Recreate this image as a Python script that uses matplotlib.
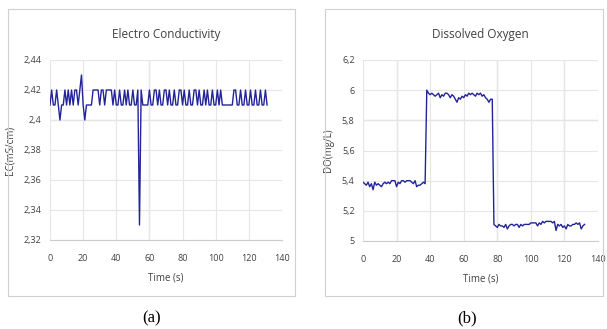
import matplotlib
matplotlib.use('Agg')
import matplotlib.pyplot as plt
from matplotlib.patches import Rectangle
from matplotlib.ticker import FuncFormatter

# Electro Conductivity (mS/cm), one sample per second
ec_vals = [
    2.41, 2.42, 2.41, 2.41, 2.42, 2.41, 2.40, 2.41, 2.41, 2.42,
    2.41, 2.42, 2.41, 2.42, 2.41, 2.42, 2.42, 2.41, 2.42, 2.43,
    2.41, 2.40, 2.41, 2.41, 2.41, 2.41, 2.42, 2.42, 2.42, 2.42,
    2.41, 2.42, 2.42, 2.41, 2.42, 2.42, 2.42, 2.42, 2.41, 2.42,
    2.41, 2.41, 2.42, 2.41, 2.41, 2.42, 2.41, 2.42, 2.41, 2.41,
    2.42, 2.41, 2.41, 2.42, 2.33, 2.42, 2.41, 2.41, 2.41, 2.41,
    2.42, 2.41, 2.41, 2.42, 2.42, 2.41, 2.42, 2.41, 2.41, 2.42,
    2.42, 2.41, 2.42, 2.41, 2.41, 2.42, 2.41, 2.41, 2.42, 2.42,
    2.41, 2.42, 2.41, 2.41, 2.42, 2.41, 2.41, 2.42, 2.42, 2.41,
    2.42, 2.41, 2.41, 2.42, 2.41, 2.42, 2.41, 2.41, 2.42, 2.41,
    2.41, 2.42, 2.41, 2.42, 2.41, 2.41, 2.41, 2.41, 2.41, 2.41,
    2.41, 2.42, 2.42, 2.41, 2.41, 2.42, 2.41, 2.41, 2.42, 2.41,
    2.41, 2.42, 2.41, 2.41, 2.42, 2.41, 2.41, 2.42, 2.41, 2.41,
    2.42, 2.41,
]

# Dissolved Oxygen (mg/L)
do_vals = [
    5.39, 5.38, 5.37, 5.39, 5.36, 5.38, 5.34, 5.39, 5.37, 5.38,
    5.37, 5.36, 5.38, 5.39, 5.38, 5.39, 5.38, 5.40, 5.40, 5.40,
    5.36, 5.39, 5.38, 5.40, 5.40, 5.39, 5.40, 5.40, 5.40, 5.39,
    5.38, 5.40, 5.36, 5.37, 5.37, 5.38, 5.39, 5.38, 6.00, 5.98,
    5.97, 5.98, 5.97, 5.96, 5.97, 5.98, 5.95, 5.97, 5.96, 5.98,
    5.98, 5.97, 5.95, 5.97, 5.96, 5.94, 5.92, 5.95, 5.94, 5.96,
    5.95, 5.97, 5.96, 5.98, 5.97, 5.98, 5.97, 5.96, 5.98, 5.97,
    5.98, 5.96, 5.97, 5.95, 5.94, 5.92, 5.94, 5.94, 5.11, 5.10,
    5.09, 5.11, 5.10, 5.10, 5.09, 5.11, 5.08, 5.10, 5.11, 5.11,
    5.10, 5.11, 5.11, 5.09, 5.11, 5.10, 5.11, 5.11, 5.11, 5.11,
    5.12, 5.12, 5.12, 5.12, 5.10, 5.12, 5.11, 5.13, 5.12, 5.13,
    5.13, 5.13, 5.13, 5.12, 5.13, 5.07, 5.11, 5.10, 5.11, 5.09,
    5.10, 5.08, 5.11, 5.10, 5.10, 5.11, 5.11, 5.12, 5.11, 5.12,
    5.08, 5.10, 5.11,
]

ec_time = list(range(len(ec_vals)))
do_time = list(range(len(do_vals)))

ec_ticks = [2.32, 2.34, 2.36, 2.38, 2.40, 2.42, 2.44]
do_ticks = [5.0, 5.2, 5.4, 5.6, 5.8, 6.0, 6.2]
x_ticks = [0, 20, 40, 60, 80, 100, 120, 140]

LINE = '#23239a'
GRID = '#e6e6e6'
GRID_DARK = '#cdcdcd'
TXT = '#404040'
plt.rcParams['font.family'] = ['Open Sans', 'DejaVu Sans']


def comma(v, _):
    s = f'{v:.2f}'.rstrip('0').rstrip('.')
    return s.replace('.', ',')


def style(ax, title, ylabel, yticks, dark_x, dark_y):
    ax.set_xlim(0, 140)
    ax.set_ylim(yticks[0], yticks[-1])
    ax.set_xticks(x_ticks)
    ax.set_yticks(yticks)
    ax.yaxis.set_major_formatter(FuncFormatter(comma))
    ax.grid(True, color=GRID, linewidth=0.8)
    # a few grid lines look heavier in the original
    for xv in dark_x:
        ax.axvline(xv, color=GRID_DARK, linewidth=0.9, zorder=0.5)
    for yv in dark_y:
        ax.axhline(yv, color=GRID_DARK, linewidth=0.9, zorder=0.5)
    ax.set_axisbelow(True)
    for s in ax.spines.values():
        s.set_visible(False)
    ax.spines['bottom'].set_visible(True)
    ax.spines['bottom'].set_color('#cccccc')
    ax.tick_params(length=0, labelsize=6.5, colors=TXT)
    ax.tick_params(axis='x', pad=10)
    ax.tick_params(axis='y', pad=6)
    ax.set_title(title, fontsize=8.5, color=TXT, pad=16)
    ax.set_xlabel('Time (s)', fontsize=7, color=TXT, labelpad=7)
    ax.set_ylabel(ylabel, fontsize=7, color=TXT, labelpad=6)


fig = plt.figure(figsize=(6.07, 3.29), dpi=100)

# panel frames
fig.patches.append(Rectangle((8 / 607, 1 - 296 / 329), 287 / 607, 287 / 329,
                             transform=fig.transFigure, fill=False,
                             edgecolor='#d0d0d0', linewidth=0.8))
fig.patches.append(Rectangle((325 / 607, 1 - 296 / 329), 278 / 607, 287 / 329,
                             transform=fig.transFigure, fill=False,
                             edgecolor='#d0d0d0', linewidth=0.8))

ax1 = fig.add_axes([50 / 607, 1 - 240 / 329, 232 / 607, 180 / 329])
ax1.plot(ec_time, ec_vals, color=LINE, linewidth=1.0, solid_joinstyle='round')
style(ax1, 'Electro Conductivity', 'EC(mS/cm)', ec_ticks, [60], [2.40])

ax2 = fig.add_axes([363 / 607, 1 - 241 / 329, 235 / 607, 181 / 329])
ax2.plot(do_time, do_vals, color=LINE, linewidth=1.0, solid_joinstyle='round')
style(ax2, 'Dissolved Oxygen', 'DO(mg/L)', do_ticks, [20, 80, 120], [5.8])

fig.text(152 / 607, 1 - 318 / 329, '(a)', ha='center', va='center',
         fontsize=12, family='Liberation Serif')
fig.text(467 / 607, 1 - 318 / 329, '(b)', ha='center', va='center',
         fontsize=12, family='Liberation Serif')

fig.savefig('out.png', dpi=100)
